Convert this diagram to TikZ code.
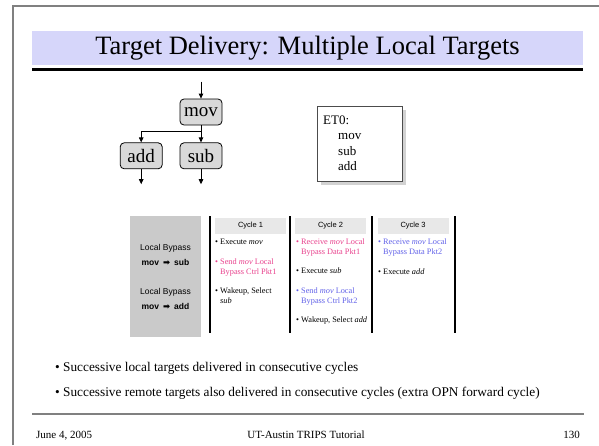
\documentclass[tikz,border=0pt]{standalone}
\usepackage{fontspec}
\setmainfont{Liberation Serif}
\setsansfont{Liberation Sans}
\newfontfamily\symfont{DejaVu Sans}
\usepackage{xcolor}
\usetikzlibrary{arrows.meta, positioning, calc, shadows}
\definecolor{band}{RGB}{214,214,250}
\definecolor{rule}{RGB}{128,128,128}
\definecolor{opfill}{RGB}{217,217,217}
\definecolor{bypass}{RGB}{202,202,202}
\definecolor{head}{RGB}{232,232,232}
\definecolor{pinkpkt}{RGB}{232,64,140}
\definecolor{bluepkt}{RGB}{96,96,232}
\newcommand{\twoline}[2]{\begin{tabular}[t]{@{}l@{}}#1\\\phantom{• }#2\end{tabular}}
\tikzset{
  op/.style     = {rectangle, rounded corners=4pt, draw, fill=opfill,
                   line width=0.8pt, minimum width=42pt, minimum height=26pt,
                   inner sep=1pt, font=\fontsize{19}{19}\selectfont},
  flow/.style   = {-{Triangle[length=5pt,width=4.5pt]}, line width=0.8pt},
  etbox/.style  = {rectangle, draw=black!70, fill=white, line width=0.6pt,
                   minimum width=85pt, minimum height=75pt,
                   drop shadow={shadow xshift=3pt, shadow yshift=-3pt,
                   fill=black!35}},
  cell/.style   = {rectangle, fill=head, minimum width=71pt,
                   minimum height=16pt, inner sep=0pt,
                   font=\sffamily\fontsize{7.5}{9}\selectfont},
  item/.style   = {anchor=base west, inner sep=0pt,
                   font=\fontsize{8.3}{10}\selectfont},
  tag/.style    = {inner sep=0pt, font=\sffamily\fontsize{8.5}{10}\selectfont},
  point/.style  = {anchor=base west, inner sep=0pt,
                   font=\fontsize{13.3}{16}\selectfont},
  foot/.style   = {inner sep=0pt, font=\fontsize{11}{13}\selectfont},
  colsep/.style = {line width=1.8pt},
}
\begin{document}
\begin{tikzpicture}[x=1pt, y=-1pt, node distance=17pt]
  \useasboundingbox (0,0) rectangle (599,445);
  % slide frame and title
  \draw[rule, line width=1.5pt] (13,445) -- (13,6) -- (599,6);
  \fill[band] (32,31) rectangle (583,65);
  \node[font=\fontsize{26.5}{30}\selectfont] (title) at (307.5,48)
    {Target Delivery: Multiple Local Targets};
  \draw[line width=3.5pt] (32,69.5) -- (583,69.5);

  % dataflow graph
  \node[op] (mov) at (201,112) {mov};
  \node[op, below=17pt of mov] (sub) {sub};
  \node[op, left=17pt of sub] (add) {add};
  \coordinate[above=17pt of mov] (in);
  \coordinate (split) at ($(mov.south)+(0,6)$);
  \coordinate[below=15pt of add] (addout);
  \coordinate[below=15pt of sub] (subout);

  \draw[flow] (in) -- (mov);
  \draw[line width=0.8pt] (mov) -- (split);
  \draw[flow] (split) -| (add);
  \draw[flow] (split) -- (sub);
  \draw[flow] (add) -- (addout);
  \draw[flow] (sub) -- (subout);

  % ET0 block
  \node[etbox] (et) at (360.2,144.2) {};
  \node[anchor=base west, inner sep=0pt, font=\fontsize{13}{15.5}\selectfont]
    (etlist) at (323,124.3)
    {\begin{tabular}[t]{@{}l@{}}ET0:\\\hspace*{15pt}mov\\\hspace*{15pt}sub\\\hspace*{15pt}add\end{tabular}};

  % local bypass schedule
  \fill[bypass] (130,216) rectangle (201,337);
  \node[tag] (lb1) at (165.5,248.3) {Local Bypass};
  \node[tag] (mv1) at (165.5,262.7) {\bfseries mov\hspace{4pt}{\symfont ➡}\hspace{4pt}sub};
  \node[tag] (lb2) at (165.5,292) {Local Bypass};
  \node[tag] (mv2) at (165.5,306.7) {\bfseries mov\hspace{4pt}{\symfont ➡}\hspace{4pt}add};

  \draw[colsep] (210,216) -- (210,333);
  \draw[colsep] (290.3,216) -- (290.3,333);
  \draw[colsep] (371.7,216) -- (371.7,333);
  \draw[colsep] (455,216) -- (455,333);

  \node[cell] (cy1) at (250.5,225.5) {Cycle 1};
  \node[cell] (cy2) at (330.5,225.5) {Cycle 2};
  \node[cell] (cy3) at (413,225.5) {Cycle 3};

  \node[item] (ex1) at (215,244.2) {• Execute \textit{mov}};
  \node[item, pinkpkt] (sd1) at (215,264.5) {\twoline{• Send \textit{mov} Local}{Bypass Ctrl Pkt1}};
  \node[item] (wk1) at (215,293.5) {\twoline{• Wakeup, Select}{\textit{sub}}};

  \node[item, pinkpkt] (rc1) at (296,244.2) {\twoline{• Receive \textit{mov} Local}{Bypass Data Pkt1}};
  \node[item] (ex2) at (296,273.5) {• Execute \textit{sub}};
  \node[item, bluepkt] (sd2) at (296,293.5) {\twoline{• Send \textit{mov} Local}{Bypass Ctrl Pkt2}};
  \node[item] (wk2) at (296,322.5) {• Wakeup, Select \textit{add}};

  \node[item, bluepkt] (rc2) at (378,244.2) {\twoline{• Receive \textit{mov} Local}{Bypass Data Pkt2}};
  \node[item] (ex3) at (378,274) {• Execute \textit{add}};

  % bullets
  \node[point] (pt1) at (55,371) {• Successive local targets delivered in consecutive cycles};
  \node[point] (pt2) at (55,396) {• Successive remote targets also delivered in consecutive cycles (extra OPN forward cycle)};

  % footer
  \draw[rule, line width=2pt] (32,414) -- (584,414);
  \node[foot, anchor=base west] (date) at (36,438) {June 4, 2005};
  \node[foot, anchor=base] (talk) at (306,438) {UT-Austin TRIPS Tutorial};
  \node[foot, anchor=base east] (page) at (580,438) {130};
\end{tikzpicture}
\end{document}
